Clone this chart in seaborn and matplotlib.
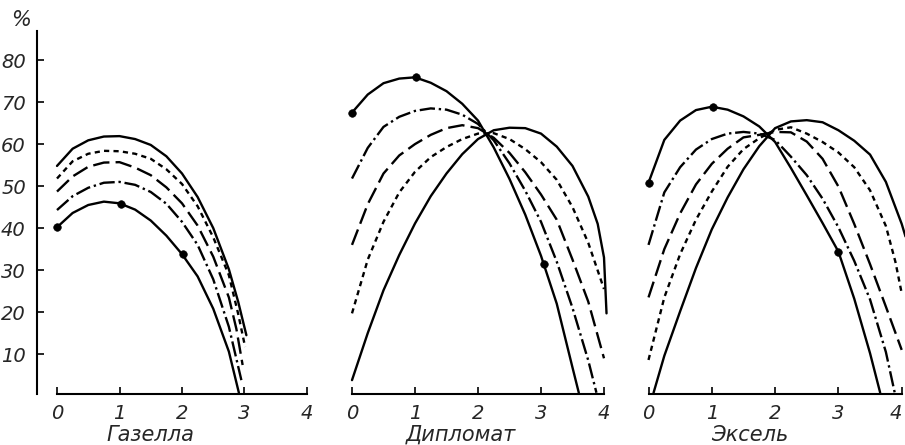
import pandas as pd
import seaborn as sns
import matplotlib.pyplot as plt

# Подписи сортов
sorts = ['Газелла', 'Дипломат', 'Эксель']
x_ticks = [0, 1, 2, 3, 4]
y_ticks = [10, 20, 30, 40, 50, 60, 70, 80]

q = [0, 0.25, 0.5, 0.75, 1.0, 1.25, 1.5, 1.75, 2.0, 2.25, 2.5, 2.75]

# Газелла (%)
gaz_top_x = q + [2.9, 3.03]
gaz_top_y = [54.8, 58.9, 60.9, 61.8, 61.9, 61.2, 59.8, 57.1, 53.0, 47.4, 40.0, 30.2, 22.4, 14.5]
gaz_sd_x = q + [2.9, 3.01]
gaz_sd_y = [51.8, 55.9, 57.7, 58.4, 58.3, 57.7, 56.5, 54.0, 50.5, 45.2, 37.8, 28.8, 19.5, 11.7]
gaz_ld_x = q + [2.87, 2.97]
gaz_ld_y = [48.7, 52.3, 54.6, 55.6, 55.7, 54.4, 52.6, 49.7, 45.9, 40.6, 33.2, 23.5, 16.0, 7.4]
gaz_dd_x = q + [2.95]
gaz_dd_y = [44.3, 47.6, 49.6, 50.8, 51.0, 50.3, 48.6, 45.8, 41.5, 36.0, 27.8, 16.5, 3.8]
gaz_bot_x = q + [2.91]
gaz_bot_y = [40.2, 43.6, 45.5, 46.3, 45.9, 44.4, 41.8, 38.2, 33.8, 28.5, 20.8, 10.6, 0.8]
gaz_pts_x = [0, 1.03, 2.02]
gaz_pts_y = [40.2, 45.7, 33.8]

# Дипломат
q4 = q + [3.0, 3.25, 3.5, 3.75, 4.0]
dip_top_x = q + [3.0, 3.25, 3.5, 3.6]
dip_top_y = [67.5, 71.8, 74.5, 75.6, 75.9, 74.6, 72.6, 69.6, 65.6, 59.2, 51.7, 43.2, 33.4, 22.0, 6.8, 0.8]
dip_dd_x = q + [3.0, 3.25, 3.5, 3.75, 3.88]
dip_dd_y = [51.8, 59.1, 64.1, 66.5, 67.9, 68.5, 68.2, 67.0, 64.8, 60.9, 55.4, 48.9, 41.5, 32.0, 21.0, 8.5, 0.8]
dip_ld_x = q4
dip_ld_y = [36.0, 45.7, 53.0, 57.3, 60.0, 62.2, 63.8, 64.5, 63.8, 61.5, 57.9, 53.3, 48.0, 42.0, 32.5, 22.5, 9.0]
dip_sd_x = q4
dip_sd_y = [19.7, 32.5, 41.5, 48.5, 53.4, 56.9, 59.3, 61.2, 62.5, 62.6, 61.2, 58.8, 55.7, 51.5, 45.0, 36.5, 25.5]
dip_bot_x = q + [3.0, 3.25, 3.5, 3.75, 3.9, 4.0, 4.04]
dip_bot_y = [3.8, 15.0, 25.2, 33.6, 41.1, 47.6, 53.0, 57.6, 61.2, 63.3, 63.9, 63.8, 62.5, 59.4, 54.8, 47.5, 41.0, 33.0, 19.7]
dip_pts_x = [0, 1.02, 3.05]
dip_pts_y = [67.5, 75.9, 31.5]

# Эксель
exc_top_x = q + [3.0, 3.25, 3.5, 3.66]
exc_top_y = [50.8, 61.0, 65.6, 68.1, 68.9, 68.2, 66.6, 64.2, 60.5, 54.3, 47.8, 41.2, 34.4, 23.2, 10.2, 0.8]
exc_dd_x = q + [3.0, 3.25, 3.5, 3.75, 3.89]
exc_dd_y = [36.0, 48.5, 54.5, 58.7, 61.2, 62.5, 62.9, 62.5, 61.0, 57.0, 52.6, 47.0, 40.2, 32.2, 23.0, 10.5, 0.8]
exc_ld_x = q4
exc_ld_y = [23.5, 35.0, 43.5, 50.4, 55.3, 58.9, 61.6, 62.2, 62.9, 62.8, 60.6, 56.5, 49.9, 41.0, 31.4, 21.3, 11.0]
exc_sd_x = q + [3.0, 3.25, 3.5, 3.75, 3.9, 4.0]
exc_sd_y = [8.6, 23.5, 33.8, 42.0, 48.7, 54.6, 58.8, 61.4, 63.4, 64.0, 62.5, 60.5, 58.0, 54.5, 49.0, 40.5, 32.0, 24.5]
exc_bot_x = [0.08] + q[1:] + [3.0, 3.25, 3.5, 3.75, 4.0, 4.06]
exc_bot_y = [0.8, 9.6, 20.2, 30.5, 39.7, 47.3, 54.0, 59.5, 63.8, 65.4, 65.7, 65.2, 63.3, 60.8, 57.5, 51.0, 41.0, 38.0]
exc_pts_x = [0, 1.02, 3.0]
exc_pts_y = [50.8, 68.9, 34.4]

curves = {
    'Газелла': [('top', 'solid', gaz_top_x, gaz_top_y), ('sd', 'short', gaz_sd_x, gaz_sd_y),
                ('ld', 'long', gaz_ld_x, gaz_ld_y), ('dd', 'dashdot', gaz_dd_x, gaz_dd_y),
                ('bot', 'solid', gaz_bot_x, gaz_bot_y)],
    'Дипломат': [('top', 'solid', dip_top_x, dip_top_y), ('dd', 'dashdot', dip_dd_x, dip_dd_y),
                 ('ld', 'long', dip_ld_x, dip_ld_y), ('sd', 'short', dip_sd_x, dip_sd_y),
                 ('bot', 'solid', dip_bot_x, dip_bot_y)],
    'Эксель': [('top', 'solid', exc_top_x, exc_top_y), ('dd', 'dashdot', exc_dd_x, exc_dd_y),
               ('ld', 'long', exc_ld_x, exc_ld_y), ('sd', 'short', exc_sd_x, exc_sd_y),
               ('bot', 'solid', exc_bot_x, exc_bot_y)],
}
points = {
    'Газелла': (gaz_pts_x, gaz_pts_y),
    'Дипломат': (dip_pts_x, dip_pts_y),
    'Эксель': (exc_pts_x, exc_pts_y),
}

rows = []
for s in sorts:
    for name, kind, xs, ys in curves[s]:
        for xv, yv in zip(xs, ys):
            rows.append({'sort': s, 'curve': name, 'kind': kind, 'x': xv, 'y': yv})
df = pd.DataFrame(rows)

dash_map = {'solid': '', 'short': (2.2, 1.8), 'long': (7.0, 2.6), 'dashdot': (6.5, 1.6, 1.0, 1.6)}

sns.set_theme(style='white')
plt.rcParams['font.family'] = ['Liberation Sans Narrow', 'DejaVu Sans']
plt.rcParams['font.style'] = 'italic'

fig = plt.figure(figsize=(9.05, 4.45), dpi=100)
W, H = 905, 445
ylo, yhi = 0.5, 87
ppu_y = 4.2
bottom = 51 / H
height = (yhi - ylo) * ppu_y / H

# (пиксель нуля по x, пикселей на единицу, левая граница xlim, правая)
layout = [(57, 62.5, -0.32, 4.05), (352, 63, -0.1, 4.1), (648.5, 63.3, -0.1, 4.1)]
label_x = [1.5, 1.73, 1.6]

for i, s in enumerate(sorts):
    x0, ppu, xmin, xmax = layout[i]
    left = (x0 + xmin * ppu) / W
    width = (xmax - xmin) * ppu / W
    ax = fig.add_axes([left, bottom, width, height])
    d = df[df['sort'] == s]
    sns.lineplot(data=d, x='x', y='y', units='curve', estimator=None, style='kind',
                 dashes=dash_map, color='black', linewidth=1.7, sort=False,
                 legend=False, ax=ax)
    px, py = points[s]
    sns.scatterplot(x=px, y=py, color='black', s=30, edgecolor='black', zorder=5, ax=ax)
    ax.set_xlim(xmin, xmax)
    ax.set_ylim(ylo, yhi)
    ax.set_xticks(x_ticks)
    ax.set_xticklabels([str(t) for t in x_ticks])
    for sp in ['top', 'right']:
        ax.spines[sp].set_visible(False)
    ax.spines['bottom'].set_bounds(0, 4)
    ax.spines['bottom'].set_color('black')
    ax.spines['bottom'].set_linewidth(1.5)
    ax.tick_params(axis='x', direction='in', length=5, width=1.2, color='black',
                   labelsize=14, pad=7, bottom=True)
    if i == 2:
        # последняя подпись у края рисунка
        ax.get_xticklabels()[-1].set_horizontalalignment('right')
    if i == 0:
        ax.spines['left'].set_color('black')
        ax.spines['left'].set_linewidth(1.5)
        ax.set_yticks(y_ticks)
        ax.set_yticklabels([str(t) for t in y_ticks])
        ax.tick_params(axis='y', direction='in', length=5, width=1.2, color='black',
                       labelsize=14, pad=8, left=True)
    else:
        ax.spines['left'].set_visible(False)
        ax.set_yticks([])
    ax.set_ylabel('')
    ax.set_xlabel(s, fontsize=15)
    ax.xaxis.set_label_coords((label_x[i] - xmin) / (xmax - xmin), -0.085)
    ax.patch.set_alpha(0)

fig.text(21 / W, 1 - 20 / H, '%', ha='center', va='center', fontsize=15)

plt.savefig('out.png', dpi=100, facecolor='white')
plt.close()
